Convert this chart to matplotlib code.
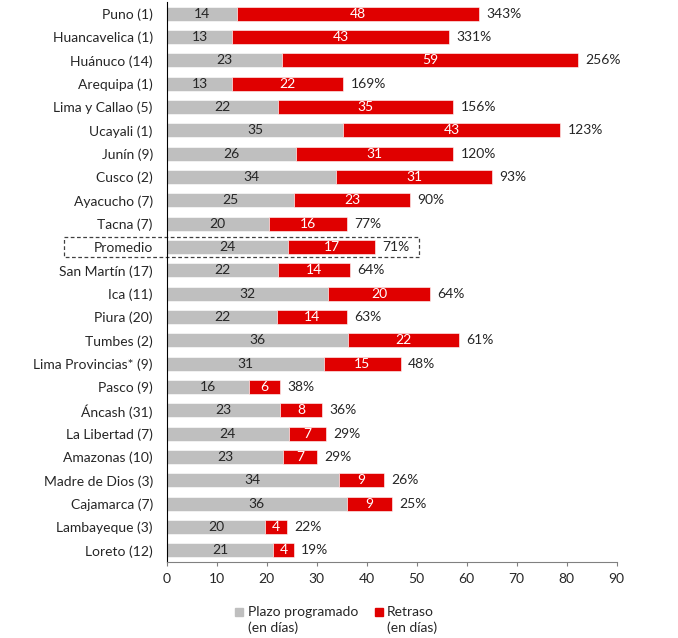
import matplotlib.pyplot as plt
from matplotlib.patches import Rectangle

# Datos por región (plazo programado y retraso, en días)
regiones = ['Puno (1)', 'Huancavelica (1)', 'Huánuco (14)', 'Arequipa (1)',
            'Lima y Callao (5)', 'Ucayali (1)', 'Junín (9)', 'Cusco (2)',
            'Ayacucho (7)', 'Tacna (7)', 'Promedio', 'San Martín (17)',
            'Ica (11)', 'Piura (20)', 'Tumbes (2)', 'Lima Provincias* (9)',
            'Pasco (9)', 'Áncash (31)', 'La Libertad (7)', 'Amazonas (10)',
            'Madre de Dios (3)', 'Cajamarca (7)', 'Lambayeque (3)', 'Loreto (12)']
plazo = [14.0, 13.1, 23.1, 13.1, 22.3, 35.3, 25.9, 33.9, 25.4, 20.4, 24.3, 22.3,
         32.3, 22.1, 36.3, 31.4, 16.4, 22.7, 24.4, 23.3, 34.4, 36.0, 19.7, 21.3]
retraso = [48.4, 43.4, 59.2, 22.2, 35.0, 43.4, 31.4, 31.2, 23.3, 15.7, 17.4, 14.4,
           20.4, 14.0, 22.2, 15.4, 6.3, 8.3, 7.4, 6.8, 9.1, 9.1, 4.4, 4.1]
porcentaje = ['343%', '331%', '256%', '169%', '156%', '123%', '120%', '93%',
              '90%', '77%', '71%', '64%', '64%', '63%', '61%', '48%', '38%',
              '36%', '29%', '29%', '26%', '25%', '22%', '19%']
etiq_plazo = [14, 13, 23, 13, 22, 35, 26, 34, 25, 20, 24, 22, 32, 22, 36, 31,
              16, 23, 24, 23, 34, 36, 20, 21]
etiq_retraso = [48, 43, 59, 22, 35, 43, 31, 31, 23, 16, 17, 14, 20, 14, 22, 15,
                6, 8, 7, 7, 9, 9, 4, 4]

gris = '#BFBFBF'
rojo = '#E00000'
texto = '#262626'

plt.rcParams['font.family'] = ['Lato', 'DejaVu Sans']
plt.rcParams['font.size'] = 10

fig = plt.figure(figsize=(6.78, 6.38), dpi=100)
ax = fig.add_axes([0.2459, 0.1196, 0.6637, 0.8768])

y = list(range(len(regiones)))
ax.barh(y, plazo, height=0.6, color=gris, edgecolor='white', linewidth=0.4)
ax.barh(y, retraso, left=plazo, height=0.6, color=rojo, edgecolor='white', linewidth=0.4)

for i in y:
    ax.text(plazo[i] / 2, i, str(etiq_plazo[i]), ha='center', va='center', color=texto)
    ax.text(plazo[i] + retraso[i] / 2, i, str(etiq_retraso[i]), ha='center',
            va='center', color='white')
    ax.text(plazo[i] + retraso[i] + 1.5, i, porcentaje[i], ha='left',
            va='center', color=texto)

# Recuadro punteado del promedio
ip = regiones.index('Promedio')
ax.add_patch(Rectangle((-20.5, ip - 0.43), 71, 0.86, fill=False, ls=(0, (3, 2)),
                       lw=0.9, edgecolor='#404040', clip_on=False))

ax.set_xlim(0, 90)
ax.set_ylim(23.49, -0.49)
ax.set_xticks(range(0, 91, 10))
ax.set_yticks(y)
ax.set_yticklabels(regiones, color=texto)
ax.tick_params(axis='y', length=0, pad=10)
ax.tick_params(axis='x', length=3, color='#808080', pad=5, labelcolor=texto)
for s in ['top', 'right']:
    ax.spines[s].set_visible(False)
ax.spines['left'].set_color('black')
ax.spines['bottom'].set_color('#808080')

# Leyenda
W, H = 678, 638
leyenda = [(235, 248, gris, 'Plazo programado'), (375, 387, rojo, 'Retraso')]
for xc, xt, col, lab in leyenda:
    fig.patches.append(Rectangle((xc / W, 1 - 616 / H), 8 / W, 8 / H,
                                 transform=fig.transFigure, color=col))
    fig.text(xt / W, 1 - 611.5 / H, lab, va='center', ha='left', color=texto)
    fig.text(xt / W, 1 - 628 / H, '(en días)', va='center', ha='left', color=texto)

plt.savefig('out.png', dpi=100)
